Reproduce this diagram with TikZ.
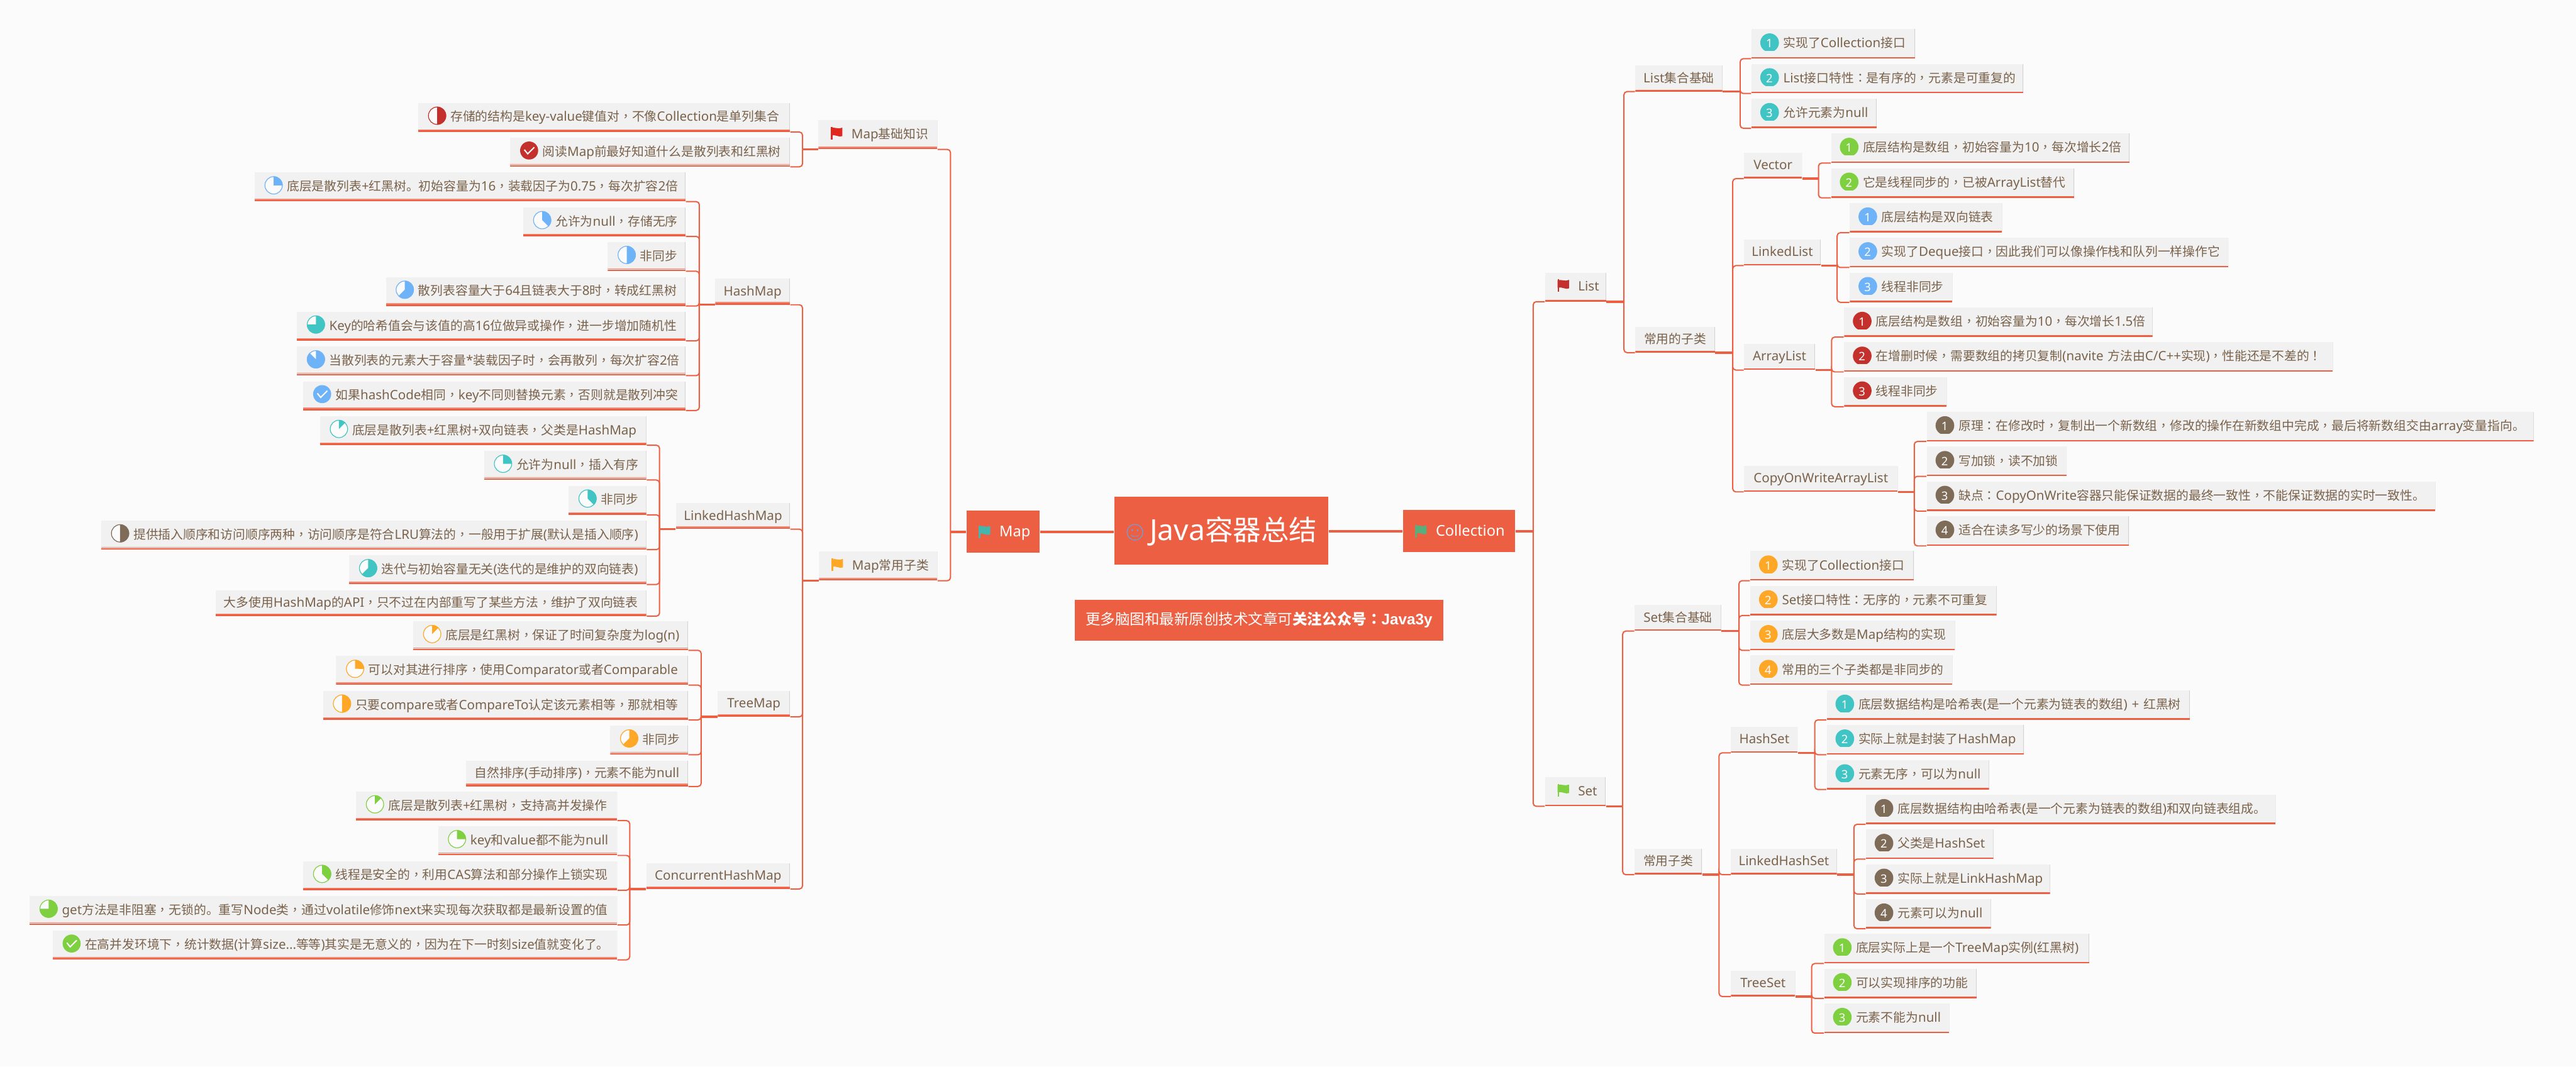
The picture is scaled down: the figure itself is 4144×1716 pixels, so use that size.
\documentclass[tikz,border=0pt]{standalone}
\usepackage{fontspec}
\setmainfont[Scale=1.04]{Noto Sans}
\newfontfamily\hanfont{Noto Sans CJK SC}
\newfontfamily\puncfont{Noto Sans CJK TC}
\newfontfamily\latinfont[Scale=1.04]{Noto Sans}
\newfontfamily\javafont[Scale=1.03]{Liberation Sans}
% Han characters and full-width punctuation take the CJK families by themselves
\newXeTeXintercharclass\hanclass
\newXeTeXintercharclass\puncclass
\count255="3000
\loop\ifnum\count255<"A000 \XeTeXcharclass\count255=\hanclass \advance\count255 by 1 \repeat
\count255="FF00
\loop\ifnum\count255<"FFF0 \XeTeXcharclass\count255=\hanclass \advance\count255 by 1 \repeat
\XeTeXcharclass"FF0C=\puncclass
\XeTeXcharclass"FF1A=\puncclass
\XeTeXcharclass"FF01=\puncclass
\XeTeXinterchartokenstate=1
\XeTeXinterchartoks 0 \hanclass={\hanfont}
\XeTeXinterchartoks 4095 \hanclass={\hanfont}
\XeTeXinterchartoks \hanclass 0={\latinfont}
\XeTeXinterchartoks \hanclass 4095={\latinfont}
\XeTeXinterchartoks 0 \puncclass={\puncfont}
\XeTeXinterchartoks \hanclass \puncclass={\puncfont}
\XeTeXinterchartoks \puncclass \hanclass={\hanfont}
\XeTeXinterchartoks \puncclass 0={\latinfont}
\XeTeXinterchartoks \puncclass 4095={\latinfont}
\usepackage{tikz}
\usepackage{xcolor}
\definecolor{pagebg}{RGB}{251,251,251}
\definecolor{boxgray}{RGB}{241,241,241}
\definecolor{linkred}{RGB}{236,95,66}
\definecolor{softred}{RGB}{240,140,120}
\definecolor{woodbrown}{RGB}{122,98,75}
\definecolor{iconred}{RGB}{196,48,43}
\definecolor{flagred}{RGB}{224,40,32}
\definecolor{iconblue}{RGB}{110,178,248}
\definecolor{iconteal}{RGB}{64,196,196}
\definecolor{iconorange}{RGB}{255,167,38}
\definecolor{iconbrown}{RGB}{127,108,88}
\definecolor{icongreen}{RGB}{126,208,64}
\definecolor{flagteal}{RGB}{69,182,174}
\definecolor{flaggreen}{RGB}{90,174,125}
\definecolor{smileblue}{RGB}{109,159,220}
\newcommand{\boxfont}{\fontsize{5.69pt}{7pt}\selectfont}
\newcommand{\digitfont}{\fontsize{5.1pt}{6pt}\selectfont}
% Right edge and bottom rule of a box
\newcommand{\boxedge}{%
\draw[gray!35, line width=0.012cm] (path picture bounding box.north east) -- (path picture bounding box.south east);
\path[softline] ([yshift=0.03cm]path picture bounding box.south west) -- ([yshift=0.03cm]path picture bounding box.south east);
\draw[linkred, line width=0.04cm] (path picture bounding box.south west) -- (path picture bounding box.south east);}
\newcommand{\pieicon}[2]{%
\coordinate (ic) at ([xshift=0.305cm,yshift=-0.205cm]path picture bounding box.north west);
\filldraw[fill=white!70!boxgray, draw=#1, line width=0.012cm] (ic) circle (0.14cm);
\fill[#1] (ic) -- ++(0,-14.5) arc[start angle=90, delta angle=-#2, radius=0.145cm] -- cycle;}
\newcommand{\tickicon}[1]{%
\coordinate (ic) at ([xshift=0.305cm,yshift=-0.205cm]path picture bounding box.north west);
\fill[#1] (ic) circle (0.145cm);
\draw[white, line width=0.02cm] (ic) ++(-7.7,-1.3) -- ++(5.4,6.6) -- ++(10.6,-10.6);}
\newcommand{\numicon}[1]{%
\coordinate (ic) at ([xshift=0.29cm,yshift=-0.22cm]path picture bounding box.north west);
\begin{scope}
\clip (ic) ++(-20,-22) rectangle ++(40,35);
\fill[#1] (ic) circle (0.15cm);
\end{scope}}
\newcommand{\flagicon}[2]{%
\coordinate (ic) at ([xshift=0.2cm,yshift=-#2*0.01cm]path picture bounding box.north west);
\fill[#1] (ic) rectangle ++(2.3,20);
\fill[#1] (ic) ++(0,1.5) .. controls +(5,-2.5) and +(-6.3,3.3) .. ++(18.3,-0.8) -- ++(0,13.6)
    .. controls +(-5.3,2.7) and +(7,-2.3) .. ++(-18.3,-1) -- cycle;}
\newcommand{\smileicon}{%
\coordinate (ic) at ([xshift=0.33cm,yshift=-0.567cm]path picture bounding box.north west);
\draw[smileblue, line width=0.012cm] (ic) circle (0.127cm);
\fill[smileblue] (ic) ++(-4.3,-3.2) circle (0.016cm) ++(8.6,0) circle (0.016cm);
\draw[smileblue, line width=0.01cm] (ic) ++(-6.5,4.8) .. controls +(3.5,2.5) and +(-3.5,2.5) .. ++(13,0);}

\begin{document}
\begin{tikzpicture}[
    x=0.01cm, y=-0.01cm,
    every node/.style={font=\boxfont},
    softline/.style={draw=none},
    boxbase/.style={rectangle, inner sep=0pt, anchor=north west, text=woodbrown},
    boxwd/.style={minimum width=#1*0.01cm, text width=#1*0.01cm},
    indent/.style={align=left, execute at begin node={\leavevmode\hspace*{#1}\hbox\bgroup}, execute at end node={\egroup}},
    limb/.style={boxbase, fill=boxgray, minimum height=0.41cm, align=center, text height=0.16cm, text depth=0.03cm, path picture={\boxedge}},
    leaf/.style={boxbase, fill=boxgray, minimum height=0.46cm, text height=0.16cm, text depth=0.03cm},
    pie/.style 2 args={leaf, indent=0.52cm, path picture={\boxedge\pieicon{#1}{#2}}},
    tick/.style={leaf, indent=0.52cm, path picture={\boxedge\tickicon{#1}}},
    num/.style 2 args={leaf, minimum height=0.47cm, align=left, path picture={\boxedge\numicon{#1}},
        execute at begin node={\leavevmode\hspace*{0.287cm}\makebox[0pt]{\digitfont\color{white}#2}\hspace*{0.223cm}\hbox\bgroup},
        execute at end node={\egroup}},
    flagbox/.style={leaf, indent=0.53cm, path picture={\boxedge\flagicon{#1}{11}}},
    topbox/.style={boxbase, fill=linkred, text=white, minimum height=0.68cm, indent=0.53cm, text height=0.19cm, text depth=0.03cm,
        font=\fontsize{6.54pt}{8pt}\selectfont, path picture={\flagicon{#1}{24}}},
    link/.style={linkred, line width=0.02cm, rounded corners=0.05cm},
    stub/.style={linkred, line width=0.035cm},
    mainlink/.style={linkred, line width=0.045cm}
]
\fill[pagebg] (0,0) rectangle (4144,1716);
\useasboundingbox (0,0) rectangle (4144,1716);

% Centre of the map
\node[boxbase, fill=linkred, text=white, boxwd=344, minimum height=1.09cm, indent=0.57cm, text height=0.36cm, text depth=0.06cm,
    font=\fontsize{12.8pt}{15pt}\selectfont, path picture={\smileicon}] (title) at (1792,799) {Java容器总结};
\node[boxbase, fill=linkred, text=white, boxwd=593, minimum height=0.66cm, align=center, text height=0.19cm, text depth=0.04cm,
    font=\fontsize{6.77pt}{8pt}\selectfont] (notice) at (1728,964) {更多脑图和最新原创技术文章可{\bfseries 关注公众号：}{\bfseries\javafont Java3y}};
\node[topbox=flagteal, boxwd=118] (map) at (1554,821) {Map};
\node[topbox=flaggreen, boxwd=181] (coll) at (2256,820) {Collection};
\draw[mainlink] (map.east) -- (map.east -| title.west);
\draw[mainlink] (coll.west) -- (coll.west -| title.east);

% Map side
\begin{scope}[softline/.style={draw=softred, line width=0.013cm}]
\node[flagbox=flagred, boxwd=191] (mbase) at (1316,193) {Map基础知识};
\node[flagbox=iconorange, boxwd=190] (msub) at (1317,887) {Map常用子类};

% Map basics
\node[pie={iconred}{180}, boxwd=598] (mb1) at (672,165) {存储的结构是key-value键值对，不像Collection是单列集合};
\node[tick=iconred, boxwd=450] (mb2) at (820,221) {阅读Map前最好知道什么是散列表和红黑树};

% HashMap
\node[limb, boxwd=120] (hm) at (1150,448) {HashMap};
\node[pie={iconblue}{90}, boxwd=693] (hm1) at (409,277) {底层是散列表+红黑树。初始容量为16，装载因子为0.75，每次扩容2倍};
\node[pie={iconblue}{135}, boxwd=261] (hm2) at (841,333) {允许为null，存储无序};
\node[pie={iconblue}{180}, boxwd=125] (hm3) at (977,389) {非同步};
\node[pie={iconblue}{225}, boxwd=482] (hm4) at (620,445) {散列表容量大于64且链表大于8时，转成红黑树};
\node[pie={iconteal}{270}, boxwd=625] (hm5) at (477,501) {Key的哈希值会与该值的高16位做异或操作，进一步增加随机性};
\node[pie={iconblue}{315}, boxwd=625] (hm6) at (477,557) {当散列表的元素大于容量*装载因子时，会再散列，每次扩容2倍};
\node[tick=iconblue, boxwd=615] (hm7) at (487,613) {如果hashCode相同，key不同则替换元素，否则就是散列冲突};

% LinkedHashMap
\node[limb, boxwd=183] (lhm) at (1087,809) {LinkedHashMap};
\node[pie={iconteal}{45}, boxwd=525] (lhm1) at (514,669) {底层是散列表+红黑树+双向链表，父类是HashMap};
\node[pie={iconteal}{90}, boxwd=261] (lhm2) at (778,725) {允许为null，插入有序};
\node[pie={iconteal}{135}, boxwd=125] (lhm3) at (914,781) {非同步};
\node[pie={iconbrown}{180}, boxwd=877] (lhm4) at (162,837) {提供插入顺序和访问顺序两种，访问顺序是符合LRU算法的，一般用于扩展(默认是插入顺序)};
\node[pie={iconteal}{225}, boxwd=478] (lhm5) at (561,893) {迭代与初始容量无关(迭代的是维护的双向链表)};
\node[limb, boxwd=693] (lhm6) at (346,949) {大多使用HashMap的API，只不过在内部重写了某些方法，维护了双向链表};

% TreeMap
\node[limb, boxwd=116] (tm) at (1154,1111) {TreeMap};
\node[pie={iconorange}{45}, boxwd=442] (tm1) at (664,999) {底层是红黑树，保证了时间复杂度为log(n)};
\node[pie={iconorange}{90}, boxwd=566] (tm2) at (540,1055) {可以对其进行排序，使用Comparator或者Comparable};
\node[pie={iconorange}{180}, boxwd=587] (tm3) at (519,1111) {只要compare或者CompareTo认定该元素相等，那就相等};
\node[pie={iconorange}{225}, boxwd=125] (tm4) at (981,1167) {非同步};
\node[limb, boxwd=357] (tm5) at (749,1223) {自然排序(手动排序)，元素不能为null};

% ConcurrentHashMap
\node[limb, boxwd=231] (chm) at (1039,1388) {ConcurrentHashMap};
\node[pie={icongreen}{45}, boxwd=420] (chm1) at (572,1273) {底层是散列表+红黑树，支持高并发操作};
\node[pie={icongreen}{90}, boxwd=288] (chm2) at (704,1329) {key和value都不能为null};
\node[pie={icongreen}{135}, boxwd=505] (chm3) at (487,1385) {线程是安全的，利用CAS算法和部分操作上锁实现};
\node[pie={icongreen}{270}, boxwd=945] (chm4) at (47,1441) {get方法是非阻塞，无锁的。重写Node类，通过volatile修饰next来实现每次获取都是最新设置的值};
\node[tick=icongreen, boxwd=908] (chm5) at (84,1497) {在高并发环境下，统计数据(计算size...等等)其实是无意义的，因为在下一时刻size值就变化了。};
\end{scope}

% Map connectors
\draw[stub] (map.west) -- ++(-25,0);
\draw[link] (map.west) ++(-25,0) |- (mbase.south east);
\draw[link] (map.west) ++(-25,0) |- (msub.south east);
\draw[stub] (mbase.south west) -- ++(-25,0);
\draw[link] (mbase.south west) ++(-25,0) |- (mb1.south east);
\draw[link] (mbase.south west) ++(-25,0) |- (mb2.south east);
\draw[stub] (msub.south west) -- ++(-26,0);
\draw[link] (msub.south west) ++(-26,0) |- (hm.south east);
\draw[link] (msub.south west) ++(-26,0) |- (lhm.south east);
\draw[link] (msub.south west) ++(-26,0) |- (tm.south east);
\draw[link] (msub.south west) ++(-26,0) |- (chm.south east);
\draw[stub] (hm.south west) -- ++(-25,0);
\draw[link] (hm.south west) ++(-25,0) |- (hm1.south east);
\draw[link] (hm.south west) ++(-25,0) |- (hm2.south east);
\draw[link] (hm.south west) ++(-25,0) |- (hm3.south east);
\draw[link] (hm.south west) ++(-25,0) |- (hm4.south east);
\draw[link] (hm.south west) ++(-25,0) |- (hm5.south east);
\draw[link] (hm.south west) ++(-25,0) |- (hm6.south east);
\draw[link] (hm.south west) ++(-25,0) |- (hm7.south east);
\draw[stub] (lhm.south west) -- ++(-26,0);
\draw[link] (lhm.south west) ++(-26,0) |- (lhm1.south east);
\draw[link] (lhm.south west) ++(-26,0) |- (lhm2.south east);
\draw[link] (lhm.south west) ++(-26,0) |- (lhm3.south east);
\draw[link] (lhm.south west) ++(-26,0) |- (lhm4.south east);
\draw[link] (lhm.south west) ++(-26,0) |- (lhm5.south east);
\draw[link] (lhm.south west) ++(-26,0) |- (lhm6.south east);
\draw[stub] (tm.south west) -- ++(-26,0);
\draw[link] (tm.south west) ++(-26,0) |- (tm1.south east);
\draw[link] (tm.south west) ++(-26,0) |- (tm2.south east);
\draw[link] (tm.south west) ++(-26,0) |- (tm3.south east);
\draw[link] (tm.south west) ++(-26,0) |- (tm4.south east);
\draw[link] (tm.south west) ++(-26,0) |- (tm5.south east);
\draw[stub] (chm.south west) -- ++(-26,0);
\draw[link] (chm.south west) ++(-26,0) |- (chm1.south east);
\draw[link] (chm.south west) ++(-26,0) |- (chm2.south east);
\draw[link] (chm.south west) ++(-26,0) |- (chm3.south east);
\draw[link] (chm.south west) ++(-26,0) |- (chm4.south east);
\draw[link] (chm.south west) ++(-26,0) |- (chm5.south east);

% Collection side
\node[flagbox=iconred, boxwd=98] (list) at (2485,438) {List};
\node[flagbox=icongreen, boxwd=97] (set) at (2485,1250) {Set};

% List basics
\node[limb, boxwd=140] (lbase) at (2630,105) {List集合基础};
\node[num={iconteal}{1}, boxwd=263] (lb1) at (2817,46) {实现了Collection接口};
\node[num={iconteal}{2}, boxwd=437] (lb2) at (2817,102) {List接口特性：是有序的，元素是可重复的};
\node[num={iconteal}{3}, boxwd=201] (lb3) at (2817,158) {允许元素为null};

% List subclasses
\node[limb, boxwd=128] (lsub) at (2630,525) {常用的子类};
\node[limb, boxwd=93] (vec) at (2805,245) {Vector};
\node[num={icongreen}{1}, boxwd=480] (vec1) at (2945,214) {底层结构是数组，初始容量为10，每次增长2倍};
\node[num={icongreen}{2}, boxwd=391] (vec2) at (2945,270) {它是线程同步的，已被ArrayList替代};
\node[limb, boxwd=123] (ll) at (2805,385) {LinkedList};
\node[num={iconblue}{1}, boxwd=245] (ll1) at (2975,326) {底层结构是双向链表};
\node[num={iconblue}{2}, boxwd=609] (ll2) at (2975,382) {实现了Deque接口，因此我们可以像操作栈和队列一样操作它};
\node[num={iconblue}{3}, boxwd=165] (ll3) at (2975,438) {线程非同步};
\node[limb, boxwd=114] (al) at (2805,553) {ArrayList};
\node[num={iconred}{1}, boxwd=496] (al1) at (2966,494) {底层结构是数组，初始容量为10，每次增长1.5倍};
\node[num={iconred}{2}, boxwd=786] (al2) at (2966,550) {在增删时候，需要数组的拷贝复制(navite 方法由C/C++实现)，性能还是不差的！};
\node[num={iconred}{3}, boxwd=165] (al3) at (2966,606) {线程非同步};
\node[limb, boxwd=247] (cow) at (2805,749) {CopyOnWriteArrayList};
\node[num={iconbrown}{1}, boxwd=976] (cow1) at (3099,662) {原理：在修改时，复制出一个新数组，修改的操作在新数组中完成，最后将新数组交由array变量指向。};
\node[num={iconbrown}{2}, boxwd=225] (cow2) at (3099,718) {写加锁，读不加锁};
\node[num={iconbrown}{3}, boxwd=818] (cow3) at (3099,774) {缺点：CopyOnWrite容器只能保证数据的最终一致性，不能保证数据的实时一致性。};
\node[num={iconbrown}{4}, boxwd=325] (cow4) at (3099,830) {适合在读多写少的场景下使用};

% Set basics
\node[limb, boxwd=139] (sbase) at (2629,973) {Set集合基础};
\node[num={iconorange}{1}, boxwd=263] (sb1) at (2815,886) {实现了Collection接口};
\node[num={iconorange}{2}, boxwd=396] (sb2) at (2815,942) {Set接口特性：无序的，元素不可重复};
\node[num={iconorange}{3}, boxwd=329] (sb3) at (2815,998) {底层大多数是Map结构的实现};
\node[num={iconorange}{4}, boxwd=325] (sb4) at (2815,1054) {常用的三个子类都是非同步的};

% Set subclasses
\node[limb, boxwd=108] (ssub) at (2629,1365) {常用子类};
\node[limb, boxwd=107] (hs) at (2784,1169) {HashSet};
\node[num={iconteal}{1}, boxwd=584] (hs1) at (2938,1110) {底层数据结构是哈希表(是一个元素为链表的数组) + 红黑树};
\node[num={iconteal}{2}, boxwd=317] (hs2) at (2938,1166) {实际上就是封装了HashMap};
\node[num={iconteal}{3}, boxwd=261] (hs3) at (2938,1222) {元素无序，可以为null};
\node[limb, boxwd=170] (lhs) at (2784,1365) {LinkedHashSet};
\node[num={iconbrown}{1}, boxwd=659] (lhs1) at (3001,1278) {底层数据结构由哈希表(是一个元素为链表的数组)和双向链表组成。};
\node[num={iconbrown}{2}, boxwd=205] (lhs2) at (3001,1334) {父类是HashSet};
\node[num={iconbrown}{3}, boxwd=296] (lhs3) at (3001,1390) {实际上就是LinkHashMap};
\node[num={iconbrown}{4}, boxwd=201] (lhs4) at (3001,1446) {元素可以为null};
\node[limb, boxwd=103] (ts) at (2784,1561) {TreeSet};
\node[num={icongreen}{1}, boxwd=426] (ts1) at (2934,1502) {底层实际上是一个TreeMap实例(红黑树)};
\node[num={icongreen}{2}, boxwd=245] (ts2) at (2934,1558) {可以实现排序的功能};
\node[num={icongreen}{3}, boxwd=201] (ts3) at (2934,1614) {元素不能为null};

% Collection connectors
\draw[stub] (coll.east) -- ++(28,0);
\draw[link] (coll.east) ++(28,0) |- (list.south west);
\draw[link] (coll.east) ++(28,0) |- (set.south west);
\draw[stub] (list.south east) -- ++(28,0);
\draw[link] (list.south east) ++(28,0) |- (lbase.south west);
\draw[link] (list.south east) ++(28,0) |- (lsub.south west);
\draw[stub] (lbase.south east) -- ++(28,0);
\draw[link] (lbase.south east) ++(28,0) |- (lb1.south west);
\draw[link] (lbase.south east) ++(28,0) |- (lb2.south west);
\draw[link] (lbase.south east) ++(28,0) |- (lb3.south west);
\draw[stub] (lsub.south east) -- ++(28,0);
\draw[link] (lsub.south east) ++(28,0) |- (vec.south west);
\draw[link] (lsub.south east) ++(28,0) |- (ll.south west);
\draw[link] (lsub.south east) ++(28,0) |- (al.south west);
\draw[link] (lsub.south east) ++(28,0) |- (cow.south west);
\draw[stub] (vec.south east) -- ++(26,0);
\draw[link] (vec.south east) ++(26,0) |- (vec1.south west);
\draw[link] (vec.south east) ++(26,0) |- (vec2.south west);
\draw[stub] (ll.south east) -- ++(26,0);
\draw[link] (ll.south east) ++(26,0) |- (ll1.south west);
\draw[link] (ll.south east) ++(26,0) |- (ll2.south west);
\draw[link] (ll.south east) ++(26,0) |- (ll3.south west);
\draw[stub] (al.south east) -- ++(26,0);
\draw[link] (al.south east) ++(26,0) |- (al1.south west);
\draw[link] (al.south east) ++(26,0) |- (al2.south west);
\draw[link] (al.south east) ++(26,0) |- (al3.south west);
\draw[stub] (cow.south east) -- ++(26,0);
\draw[link] (cow.south east) ++(26,0) |- (cow1.south west);
\draw[link] (cow.south east) ++(26,0) |- (cow2.south west);
\draw[link] (cow.south east) ++(26,0) |- (cow3.south west);
\draw[link] (cow.south east) ++(26,0) |- (cow4.south west);
\draw[stub] (set.south east) -- ++(27,0);
\draw[link] (set.south east) ++(27,0) |- (sbase.south west);
\draw[link] (set.south east) ++(27,0) |- (ssub.south west);
\draw[stub] (sbase.south east) -- ++(28,0);
\draw[link] (sbase.south east) ++(28,0) |- (sb1.south west);
\draw[link] (sbase.south east) ++(28,0) |- (sb2.south west);
\draw[link] (sbase.south east) ++(28,0) |- (sb3.south west);
\draw[link] (sbase.south east) ++(28,0) |- (sb4.south west);
\draw[stub] (ssub.south east) -- ++(27,0);
\draw[link] (ssub.south east) ++(27,0) |- (hs.south west);
\draw[link] (ssub.south east) ++(27,0) |- (lhs.south west);
\draw[link] (ssub.south east) ++(27,0) |- (ts.south west);
\draw[stub] (hs.south east) -- ++(27,0);
\draw[link] (hs.south east) ++(27,0) |- (hs1.south west);
\draw[link] (hs.south east) ++(27,0) |- (hs2.south west);
\draw[link] (hs.south east) ++(27,0) |- (hs3.south west);
\draw[stub] (lhs.south east) -- ++(27,0);
\draw[link] (lhs.south east) ++(27,0) |- (lhs1.south west);
\draw[link] (lhs.south east) ++(27,0) |- (lhs2.south west);
\draw[link] (lhs.south east) ++(27,0) |- (lhs3.south west);
\draw[link] (lhs.south east) ++(27,0) |- (lhs4.south west);
\draw[stub] (ts.south east) -- ++(26,0);
\draw[link] (ts.south east) ++(26,0) |- (ts1.south west);
\draw[link] (ts.south east) ++(26,0) |- (ts2.south west);
\draw[link] (ts.south east) ++(26,0) |- (ts3.south west);
\end{tikzpicture}
\end{document}
